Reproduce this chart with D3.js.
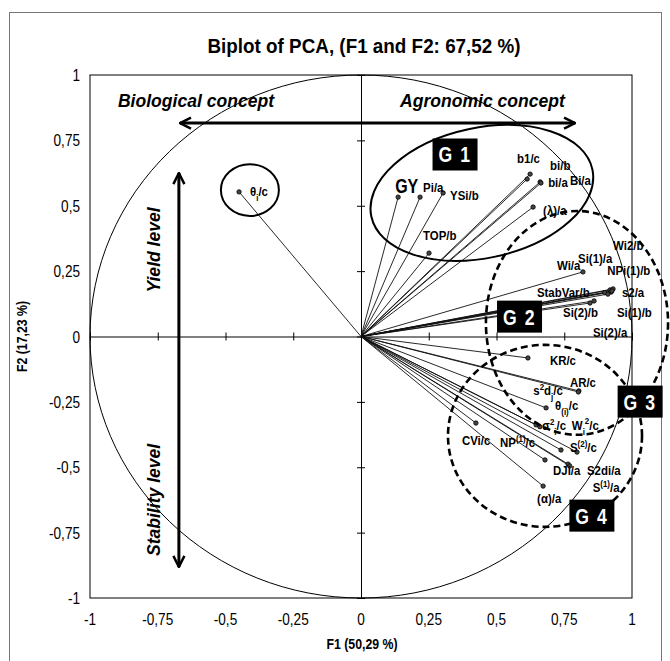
<!DOCTYPE html>
<html>
<head>
<meta charset="utf-8">
<script src="https://cdn.jsdelivr.net/npm/d3@7"></script>
<style>
  body { margin: 0; background: #fff; }
  text { font-family: "Liberation Sans", Arial, sans-serif; }
</style>
</head>
<body>
<svg id="chart" width="670" height="661"></svg>
<script>
// variables on the correlation circle (markup: ^{} superscript, _{} subscript)
var names = ["θ_{i}/c", "GY", "Pi/a", "YSi/b", "TOP/b", "b1/c", "bi/b", "bi/a", "Bi/a", "(λ)/a",
  "Wi/a", "Si(1)/a", "Wi2/b", "NPi(1)/b", "StabVar/b", "s2/a", "Si(2)/b", "Si(1)/b", "Si(2)/a",
  "KR/c", "AR/c", "s^{2}d_{j}/c", "θ_{(i)}/c", "σ^{2}_{i}/c", "W_{i}^{2}/c", "CVi/c", "NP^{(1)}/c",
  "S^{(2)}/c", "DJi/a", "S2di/a", "S^{(1)}/a", "(α)/a"];
var f1 = [-0.45, 0.137, 0.218, 0.303, 0.251, 0.624, 0.613, 0.661, 0.664, 0.635,
  0.819, 0.919, 0.930, 0.923, 0.900, 0.926, 0.860, 0.911, 0.845,
  0.616, 0.804, 0.802, 0.683, 0.646, 0.660, 0.424, 0.679,
  0.797, 0.764, 0.738, 0.770, 0.672];
var f2 = [0.553, 0.533, 0.533, 0.549, 0.319, 0.621, 0.602, 0.591, 0.587, 0.495,
  0.247, 0.178, 0.182, 0.170, 0.168, 0.174, 0.136, 0.162, 0.128,
  -0.082, -0.208, -0.212, -0.273, -0.338, -0.345, -0.331, -0.472,
  -0.442, -0.488, -0.434, -0.495, -0.572];
var tickValues = [-1, -0.75, -0.5, -0.25, 0, 0.25, 0.5, 0.75, 1];
var tickLabels = ["-1", "-0,75", "-0,5", "-0,25", "0", "0,25", "0,5", "0,75", "1"];
var titleText = "Biplot of PCA, (F1 and F2: 67,52 %)";
var xTitle = "F1 (50,29 %)";
var yTitle = "F2 (17,23 %)";
var groupNames = ["G 1", "G 2", "G 3", "G 4"];

// label placement relative to the point, in pixels [dx, dy]
var labelNudge = [[11, 4], [-3, -4], [3, -5], [7, 7], [-6, -13], [-13, -11], [23, -9], [8, 5], [29, 2], [10, 8],
  [-26, -2], [-32, -27], [0, -39], [-4, -17], [-68, 4], [10, 6], [-31, 16], [9, 23], [3, 34],
  [22, 7], [-9, -4], [-45, 3], [9, 2], [6, 5], [32, 3], [-14, 22], [-45, -13],
  [-7, 0], [-15, 11], [26, 25], [23, 26], [-6, 17]];

var svg = d3.select("#chart");
var x = d3.scaleLinear().domain([-1, 1]).range([90, 632]);
var y = d3.scaleLinear().domain([-1, 1]).range([598, 75]);

// narrow-looking text: a group scaled horizontally
function txt(px, py, str, size, opt) {
  opt = opt || {};
  var g = svg.append("g").attr("transform", "translate(" + px + "," + py + ")" +
    (opt.rot ? " rotate(" + opt.rot + ")" : "") + " scale(" + (opt.sx || 1) + ",1)");
  var t = g.append("text").attr("font-size", size)
    .attr("text-anchor", opt.anchor || "start")
    .attr("font-weight", opt.bold ? "bold" : null)
    .attr("font-style", opt.italic ? "italic" : null)
    .attr("fill", opt.fill || "#000")
    .attr("letter-spacing", opt.ls || null);
  if (str !== null) t.text(str);
  return t;
}

// outer border
svg.append("rect").attr("x", 9.5).attr("y", 12.5).attr("width", 652).attr("height", 670)
  .attr("fill", "none").attr("stroke", "#777").attr("stroke-width", 1);

txt(364, 53, titleText, 20.5, { anchor: "middle", bold: true, sx: 0.92 });

// frame
svg.append("rect").attr("x", x(-1)).attr("y", y(1)).attr("width", x(1) - x(-1)).attr("height", y(-1) - y(1))
  .attr("fill", "none").attr("stroke", "#000").attr("stroke-width", 1);

// tick labels on frame edges
tickValues.forEach(function (d, i) {
  txt(x(d), 625, tickLabels[i], 16, { anchor: "middle", sx: 0.85 });
  txt(80, y(d) + 6, tickLabels[i], 16, { anchor: "end", sx: 0.85 });
});

txt(362, 649, xTitle, 14.5, { anchor: "middle", bold: true, sx: 0.85 });
txt(27, y(0), yTitle, 14.5, { anchor: "middle", bold: true, sx: 0.85, rot: -90 });

// zero axes with ticks
var gx = svg.append("g").attr("transform", "translate(0," + y(0) + ")")
  .call(d3.axisBottom(x).tickValues(tickValues).tickSizeInner(4).tickSizeOuter(0).tickFormat(""));
var gy = svg.append("g").attr("transform", "translate(" + x(0) + ",0)")
  .call(d3.axisLeft(y).tickValues(tickValues).tickSizeInner(4).tickSizeOuter(0).tickFormat(""));
gx.selectAll(".tick line").attr("y1", -4);
gy.selectAll(".tick line").attr("x1", 4);
svg.selectAll(".domain, .tick line").attr("stroke", "#000").attr("stroke-width", 1);

// correlation circle
svg.append("ellipse").attr("cx", x(0)).attr("cy", y(0))
  .attr("rx", x(1) - x(0)).attr("ry", y(0) - y(1))
  .attr("fill", "none").attr("stroke", "#000").attr("stroke-width", 1);

// concept arrows
svg.append("defs").append("marker").attr("id", "head")
  .attr("viewBox", "0 0 10 10").attr("refX", 9).attr("refY", 5)
  .attr("markerWidth", 4.6).attr("markerHeight", 4.6).attr("orient", "auto-start-reverse")
  .append("path").attr("d", "M1,1 L9,5 L1,9").attr("fill", "none").attr("stroke", "#000").attr("stroke-width", 1.8);
function arrow(x1, y1, x2, y2) {
  svg.append("line").attr("x1", x(x1)).attr("y1", y(y1)).attr("x2", x(x2)).attr("y2", y(y2))
    .attr("stroke", "#000").attr("stroke-width", 3)
    .attr("marker-start", "url(#head)").attr("marker-end", "url(#head)");
}
arrow(-0.668, 0.816, 0.79, 0.816);
arrow(-0.672, 0.625, -0.672, -0.881);

txt(x(-0.897), y(0.878), "Biological concept", 18.5, { bold: true, italic: true, sx: 0.95 });
txt(x(0.144), y(0.878), "Agronomic concept", 18.5, { bold: true, italic: true, sx: 0.95 });
txt(x(-0.742), y(0.331), "Yield level", 18.5, { anchor: "middle", bold: true, italic: true, sx: 0.95, rot: -90 });
txt(x(-0.742), y(-0.625), "Stability level", 18.5, { anchor: "middle", bold: true, italic: true, sx: 0.95, rot: -90 });

// vectors
var pts = names.map(function (n, i) { return { name: n, f1: f1[i], f2: f2[i], nudge: labelNudge[i] }; });
svg.selectAll(".vec").data(pts).enter().append("line")
  .attr("x1", x(0)).attr("y1", y(0))
  .attr("x2", function (d) { return x(d.f1); }).attr("y2", function (d) { return y(d.f2); })
  .attr("stroke", "#111").attr("stroke-width", 0.9);
svg.selectAll(".pt").data(pts).enter().append("circle")
  .attr("cx", function (d) { return x(d.f1); }).attr("cy", function (d) { return y(d.f2); })
  .attr("r", 2.2).attr("fill", "#444").attr("stroke", "#000").attr("stroke-width", 0.8);

// labels with sub/superscripts
pts.forEach(function (d) {
  var big = d.name === "GY";
  var t = txt(x(d.f1) + d.nudge[0], y(d.f2) + d.nudge[1], null, big ? 20 : 13, { bold: true, sx: big ? 0.8 : 0.88 });
  var parts = d.name.split(/(\^\{[^}]*\}|_\{[^}]*\})/);
  parts.forEach(function (p) {
    if (!p) return;
    if (p[0] === "^") {
      t.append("tspan").attr("baseline-shift", "super").attr("font-size", 9).text(p.slice(2, -1));
    } else if (p[0] === "_") {
      t.append("tspan").attr("baseline-shift", "sub").attr("font-size", 9).text(p.slice(2, -1));
    } else {
      t.append("tspan").text(p);
    }
  });
});

// group outlines
function ell(cx, cy, rx, ry, rot, dashed) {
  svg.append("ellipse")
    .attr("transform", "translate(" + x(cx) + "," + y(cy) + ") rotate(" + rot + ")")
    .attr("rx", x(rx) - x(0)).attr("ry", y(0) - y(ry))
    .attr("fill", "none").attr("stroke", "#000").attr("stroke-width", dashed ? 2.6 : 2)
    .attr("stroke-dasharray", dashed ? "7,4" : null);
}
ell(-0.41, 0.56, 0.107, 0.099, 0, false);
ell(0.446, 0.549, 0.417, 0.249, -12, false);
ell(0.797, 0.052, 0.336, 0.428, 0, true);
ell(0.679, -0.380, 0.358, 0.348, 0, true);

var boxes = [[0.347, 0.696], [0.585, 0.076], [1.03, -0.249], [0.852, -0.685]];
groupNames.forEach(function (g, i) {
  var bx = x(boxes[i][0]), by = y(boxes[i][1]);
  svg.append("rect").attr("x", bx - 22.5).attr("y", by - 16).attr("width", 45).attr("height", 32).attr("fill", "#000");
  txt(bx, by + 8, g, 22, { anchor: "middle", bold: true, sx: 0.8, fill: "#fff", ls: 2 });
});
</script>
</body>
</html>
